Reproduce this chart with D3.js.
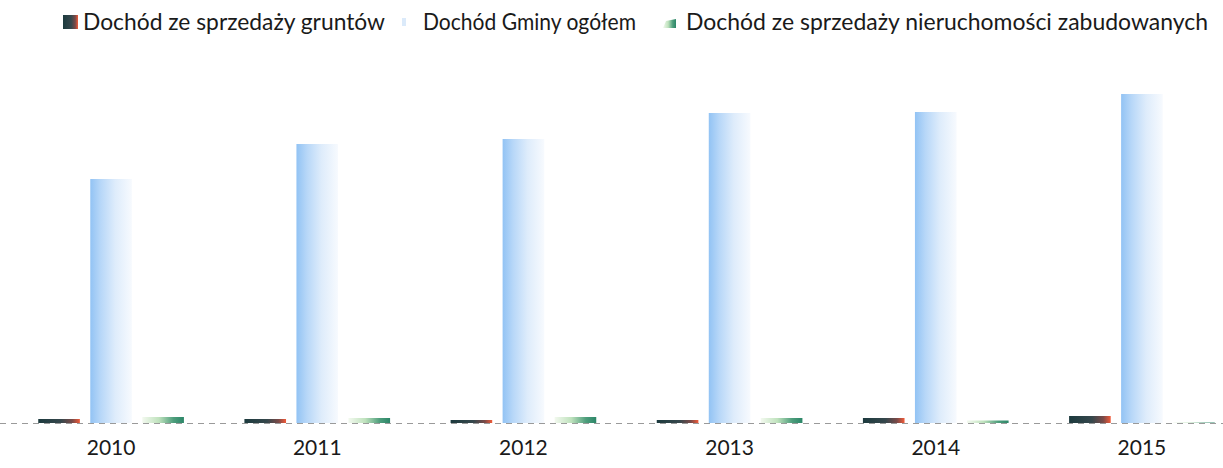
<!DOCTYPE html>
<html>
<head>
<meta charset="utf-8">
<script src="https://cdn.jsdelivr.net/npm/d3@7"></script>
<style>
  html, body { margin: 0; padding: 0; background: #fff; }
  svg { display: block; }
</style>
</head>
<body>
<svg id="chart" width="1223" height="468"></svg>
<script>
// ---- data (arbitrary units, mln zł est.) ----
const years = ["2010", "2011", "2012", "2013", "2014", "2015"];
const seriesNames = [
  "Dochód ze sprzedaży gruntów",
  "Dochód Gminy ogółem",
  "Dochód ze sprzedaży nieruchomości zabudowanych"
];
const grunty = [0.4, 0.4, 0.3, 0.3, 0.5, 0.7];
const ogolem = [24.4, 27.9, 28.4, 31.0, 31.1, 32.9];
const zabudowane = [0.6, 0.5, 0.6, 0.5, 0.25, 0.05];
const seriesValues = [grunty, ogolem, zabudowane];

const svg = d3.select("#chart");
const W = 1223, H = 468;
const baseY = 423;

// gradients
const defs = svg.append("defs");
function grad(id, stops) {
  const g = defs.append("linearGradient").attr("id", id)
    .attr("x1", "0%").attr("x2", "100%").attr("y1", "0%").attr("y2", "0%");
  stops.forEach(s => g.append("stop").attr("offset", s[0]).attr("stop-color", s[1]).attr("stop-opacity", s[2] == null ? 1 : s[2]));
}
grad("gDark", [["0%", "#1c3a3e"], ["55%", "#36474c"], ["82%", "#7a4a48"], ["100%", "#f25a38"]]);
grad("gBlue", [["0%", "#92c3f4"], ["25%", "#b7d7f8"], ["60%", "#deecfb"], ["100%", "#f7fafe"]]);
grad("gGreen", [["0%", "#f3f9ef"], ["40%", "#bfe2bd"], ["75%", "#4e9e7c"], ["100%", "#2b8668"]]);
const fills = ["url(#gDark)", "url(#gBlue)", "url(#gGreen)"];

// scales
const pi = 0.243;
const x0 = d3.scaleBand().domain(years).range([8, 1245]).paddingInner(pi).paddingOuter(pi / 2);
const x1 = d3.scaleBand().domain(d3.range(seriesNames.length)).range([0, x0.bandwidth()])
  .paddingInner(0.2).paddingOuter(0.1);
const y = d3.scaleLinear().domain([0, 35]).range([baseY, baseY - 350]);

// bars
const groups = svg.append("g").selectAll("g").data(years).join("g")
  .attr("transform", d => `translate(${x0(d)},0)`);
groups.selectAll("rect")
  .data((d, i) => seriesValues.map((vals, s) => ({ s, v: vals[i] })))
  .join("rect")
  .attr("x", d => x1(d.s))
  .attr("width", x1.bandwidth())
  .attr("y", d => y(d.v))
  .attr("height", d => y(0) - y(d.v))
  .attr("fill", d => fills[d.s]);

// baseline (faint, dashed like the scan)
svg.append("line")
  .attr("x1", 0).attr("x2", W).attr("y1", baseY + 0.5).attr("y2", baseY + 0.5)
  .attr("stroke", "#9a9a9a").attr("stroke-width", 1).attr("stroke-dasharray", "6,5");

// x axis labels
const xAxis = d3.axisBottom(x0).tickSize(0).tickPadding(0);
const ax = svg.append("g").attr("transform", `translate(0,${baseY})`).call(xAxis);
ax.select(".domain").remove();
ax.selectAll("text")
  .attr("y", 32)
  .attr("dy", 0)
  .attr("font-family", "Lato, 'Open Sans', sans-serif")
  .attr("font-size", 21)
  .attr("fill", "#1a1a1a");

// legend
const legendX = [63, 402, 663];
const legendTextX = [83, 423, 686];
const legendTextW = [302, 213, 522];
const legend = svg.append("g").attr("font-family", "Lato, 'Open Sans', sans-serif").attr("font-size", 23).attr("fill", "#1a1a1a");
seriesNames.forEach((name, i) => {
  if (i === 0) {
    legend.append("rect").attr("x", legendX[i]).attr("y", 15).attr("width", 15).attr("height", 14).attr("fill", fills[i]);
  } else if (i === 1) {
    legend.append("rect").attr("x", legendX[i]).attr("y", 18).attr("width", 4).attr("height", 8).attr("fill", "#dbeafa");
  } else {
    legend.append("path")
      .attr("d", `M${legendX[i]},28 L${legendX[i] + 3},21 L${legendX[i] + 13},19 L${legendX[i] + 13},28 Z`)
      .attr("fill", fills[i]);
  }
  legend.append("text").attr("x", legendTextX[i]).attr("y", 30)
    .attr("textLength", legendTextW[i]).attr("lengthAdjust", "spacingAndGlyphs")
    .text(name);
});
</script>
</body>
</html>
